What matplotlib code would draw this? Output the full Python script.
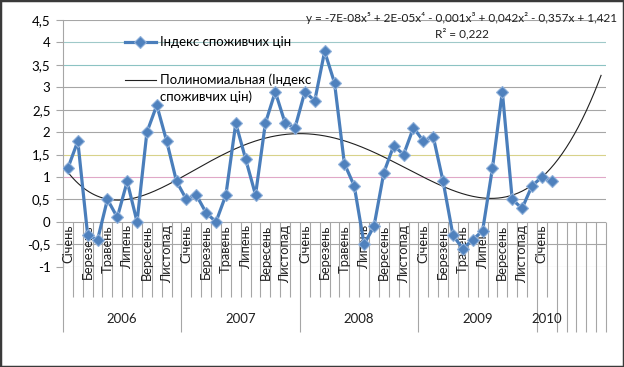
import numpy as np
import matplotlib.pyplot as plt
from matplotlib.lines import Line2D
from matplotlib.patches import Rectangle

plt.rcParams['font.family'] = ['Lato', 'DejaVu Sans']

# monthly consumer price index, % to previous month
months = ['Січень', 'Лютий', 'Березень', 'Квітень', 'Травень', 'Червень',
          'Липень', 'Серпень', 'Вересень', 'Жовтень', 'Листопад', 'Грудень']
years = ['2006', '2007', '2008', '2009', '2010']
months_per_year = [12, 12, 12, 12, 2]
cpi = [1.2, 1.8, -0.3, -0.4, 0.5, 0.1, 0.9, 0.0, 2.0, 2.6, 1.8, 0.9,
       0.5, 0.6, 0.2, 0.0, 0.6, 2.2, 1.4, 0.6, 2.2, 2.9, 2.2, 2.1,
       2.9, 2.7, 3.8, 3.1, 1.3, 0.8, -0.5, -0.1, 1.1, 1.7, 1.5, 2.1,
       1.8, 1.9, 0.9, -0.3, -0.6, -0.4, -0.2, 1.2, 2.9, 0.5, 0.3, 0.8,
       1.0, 0.9]
forecast = 5
equation = 'y = -7E-08x⁵ + 2E-05x⁴ - 0,001x³ + 0,042x² - 0,357x + 1,421'
r2_text = 'R² = 0,222'
yticks = [-1, -0.5, 0, 0.5, 1, 1.5, 2, 2.5, 3, 3.5, 4, 4.5]

n = len(cpi)
ncat = n + forecast
blue = '#4a7ebb'
grid_gray = '#a6a6a6'

W, H = 624, 367
fig = plt.figure(figsize=(W / 100, H / 100), dpi=100)
# plot area in pixels: x 63..606, y 20..266.7
ax = fig.add_axes([63 / W, (H - 266.7) / H, 543 / W, 246.7 / H])
ax.set_xlim(0, ncat)
ax.set_ylim(-1, 4.5)

# horizontal gridlines (excel rendering has a few tinted ones)
tint = {4: '#9fc9c9', 3.5: '#8cc3c3', 1.5: '#d8d28a', 1: '#e0a8c8'}
for v in yticks:
    ax.axhline(v, color=tint.get(v, grid_gray), lw=0.8, zorder=1)

ax.set_yticks(yticks)
ax.set_yticklabels([f'{v:g}'.replace('.', ',') for v in yticks], fontsize=9.5)
ax.tick_params(axis='y', length=5, color=grid_gray, pad=4)
ax.set_xticks([])
for s in ['top', 'right', 'bottom']:
    ax.spines[s].set_visible(False)
ax.spines['left'].set_color(grid_gray)

# multi-level category axis drawn at y = 0
short_bottom, long_bottom = -1.68, -2.46
starts = np.cumsum([0] + months_per_year)
group_edges = list(starts) + list(range(n + 1, ncat + 1))
month_edges = [b for b in range(ncat + 1) if b not in group_edges]
ax.vlines(month_edges, short_bottom, 0, color=grid_gray, lw=0.8, clip_on=False, zorder=1)
ax.vlines(group_edges, long_bottom, 0, color=grid_gray, lw=0.8, clip_on=False, zorder=1)
for g, year in enumerate(years):
    s = starts[g]
    for j in range(0, months_per_year[g], 2):
        ax.text(s + j + 0.5, -0.07, months[j], rotation=90, ha='center', va='top',
                fontsize=9.3, color='#202020', clip_on=False)
    ax.text(s + months_per_year[g] / 2, -2.17, year, ha='center', va='center',
            fontsize=9.5, color='#202020', clip_on=False)

# data series
x = np.arange(n) + 0.5
ax.plot(x, cpi, color=blue, lw=2.3, marker='D', ms=6, mfc='#4f81bd',
        mec='#8fb0da', mew=0.8, zorder=4)

# polynomial trendline (degree 5), forecast forward 5 periods
k = np.arange(1, n + 1)
coef = np.polyfit(k, cpi, 5)
kt = np.linspace(1, ncat, 400)
ax.plot(kt - 0.5, np.polyval(coef, kt), color='#202020', lw=0.8, zorder=3)

handles = [Line2D([], [], color=blue, lw=2.3, marker='D', ms=6, mfc='#4f81bd',
                  mec='#8fb0da', mew=0.8),
           Line2D([], [], color='#202020', lw=0.8)]
leg = ax.legend(handles, ['Індекс споживчих цін', 'Полиномиальная (Індекс\nспоживчих цін)'],
                loc='upper left', bbox_to_anchor=(0.105, 0.955), frameon=False,
                fontsize=9.5, handlelength=2.3, handletextpad=0.3, labelspacing=1.9,
                borderaxespad=0)
for t in leg.get_texts():
    t.set_linespacing(1.4)
# excel puts the trendline sample next to the first line of its label
trend_handle = leg.get_lines()[1]
trend_handle.set_ydata(np.asarray(trend_handle.get_ydata()) + 5.8)

fig.text(462 / W, 1 - 18 / H, equation, ha='center', va='center', fontsize=8.5, color='#202020')
fig.text(462 / W, 1 - 34 / H, r2_text, ha='center', va='center', fontsize=8.5, color='#202020')

fig.patches.append(Rectangle((0, 0), 1, 1, transform=fig.transFigure, fill=False,
                             edgecolor='#3a3a3a', lw=2.5))

fig.savefig('out.png', dpi=100)
